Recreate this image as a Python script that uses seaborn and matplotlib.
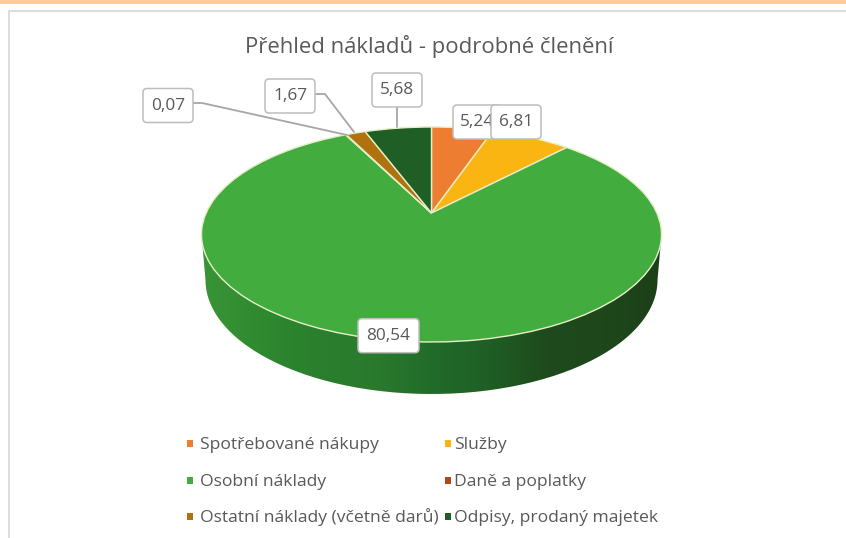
import numpy as np
import matplotlib
matplotlib.use("Agg")
import matplotlib.pyplot as plt
import seaborn as sns
from matplotlib.colors import LinearSegmentedColormap
from matplotlib.patches import FancyBboxPatch, PathPatch, Rectangle
from matplotlib.path import Path
from matplotlib.transforms import Transform

categories = ["Spotřebované nákupy", "Služby", "Osobní náklady", "Daně a poplatky",
              "Ostatní náklady (včetně darů)", "Odpisy, prodaný majetek"]
values = [5.24, 6.81, 80.54, 0.07, 1.67, 5.68]
hex_colors = ["#ED7D31", "#FBB512", "#43AC3F", "#B5441A", "#B0720E", "#1F5E24"]
title = "Přehled nákladů - podrobné členění"
side_stops = ["#3A9436", "#2F8A30", "#2A7F2D", "#2A7A2D", "#226C2A", "#1F5E25",
              "#1E4A1C", "#1E481C", "#1C3F18"]

sns.set_theme(style="white")
plt.rcParams["font.family"] = ["Open Sans", "DejaVu Sans"]
TXT = "#595959"
palette = sns.color_palette(hex_colors)

# pie geometry in figure pixels
CX, CY, RX, RY, APEX_UP = 431.5, 234.5, 230.0, 107.5, 21.5
BOT_CY, BOT_RX, BOT_RY = 280.0, 226.0, 114.0


class Perspective(Transform):
    """Tilts the unit-circle pie into the reference's perspective view."""
    input_dims = output_dims = 2
    is_separable = False
    has_inverse = False

    def transform_non_affine(self, xy):
        xy = np.asarray(xy, float)
        k = APEX_UP / RY
        a = RX * np.sqrt(1 - k * k)
        b = RY * (1 + k) - APEX_UP
        w = 1 + k * xy[:, 1]
        return np.column_stack([CX + a * xy[:, 0] / w,
                                CY - (b * xy[:, 1] + APEX_UP) / w])


fig = plt.figure(figsize=(8.46, 5.38), dpi=100, facecolor="white")
ax = fig.add_axes([0, 0, 1, 1])

wedges, _ = ax.pie(values, colors=palette, startangle=90, counterclock=False,
                   wedgeprops=dict(edgecolor="#E6EEC8", linewidth=1.0, zorder=3))
ax.set_aspect("auto")
ax.set_xlim(0, 846)
ax.set_ylim(538, 0)
ax.axis("off")
persp = Perspective() + ax.transData
for w in wedges:
    w.set_transform(persp)

# extruded side with gradient
t = np.linspace(0, np.pi, 120)
top_edge = np.column_stack([CX - RX * np.cos(t), CY + RY * np.sin(t)])
bot_edge = np.column_stack([CX + BOT_RX * np.cos(t), BOT_CY + BOT_RY * np.sin(t)])
side = Path(np.vstack([top_edge, bot_edge, top_edge[:1]]))
cmap = LinearSegmentedColormap.from_list("side", side_stops)
im = ax.imshow(np.linspace(0, 1, 256)[None, :], cmap=cmap, aspect="auto", zorder=2,
               extent=(CX - RX, CX + RX, BOT_CY + BOT_RY + 2, CY - 2))
clip = PathPatch(side, transform=ax.transData, facecolor="none", edgecolor="none")
ax.add_patch(clip)
im.set_clip_path(clip)
ax.set_xlim(0, 846)
ax.set_ylim(538, 0)

# page furniture
ax.add_patch(Rectangle((0, 0), 846, 4, facecolor="#FDC99E", edgecolor="none", zorder=1))
ax.plot([9, 9, 846], [538, 10.5, 10.5], color="#DDDDDD", lw=1.4, zorder=1, solid_joinstyle="miter")

ax.text(429, 46, title, ha="center", va="center", fontsize=15.9, color=TXT, zorder=6)

# leader lines
LINE = "#A6A6A6"
ax.plot([193, 202, 347], [103, 103, 135], color=LINE, lw=1.3, zorder=4)
ax.plot([315, 325, 354], [94, 94, 132], color=LINE, lw=1.3, zorder=4)
ax.plot([397, 397], [107, 127], color=LINE, lw=1.3, zorder=4)

# data labels (box centre, half width) per category index
boxes = {3: (168, 105.5, 25), 4: (290, 96, 25), 5: (397, 90, 25),
         0: (477, 122, 24), 1: (516, 122, 25), 2: (388.5, 335.7, 30.5)}
for z, i in enumerate([3, 4, 5, 2, 0, 1]):
    x, y, hw = boxes[i]
    hh = 17
    ax.add_patch(FancyBboxPatch((x - hw + 4, y - hh + 4), 2 * hw - 8, 2 * hh - 8,
                                boxstyle="round,pad=4,rounding_size=4", facecolor="white",
                                edgecolor="#BDBDBD", lw=1.1, zorder=7 + z))
    ax.text(x, y, f"{values[i]:.2f}".replace(".", ","), ha="center", va="center",
            fontsize=12.4, color=TXT, zorder=7 + z)

# legend, laid out row by row on common baselines
square_x = [187, 445]
text_x = [200.5, 454]
row_base = [449, 485.5, 522]
for i, (name, c) in enumerate(zip(categories, palette)):
    row, col = i // 2, i % 2
    ax.add_patch(Rectangle((square_x[col], row_base[row] - 9), 6, 7, facecolor=c,
                           edgecolor="none", zorder=5))
    ax.text(text_x[col], row_base[row], name, ha="left", va="baseline",
            fontsize=12.6, color=TXT, zorder=5)

fig.savefig("out.png", dpi=100)
